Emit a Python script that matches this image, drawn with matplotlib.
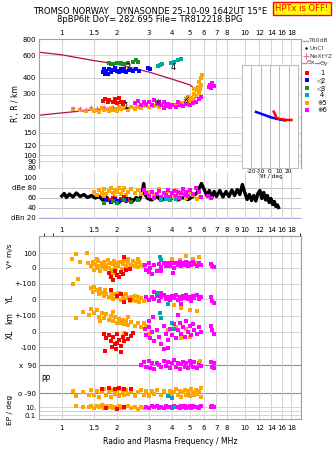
import numpy as np
import matplotlib
matplotlib.use("Agg")
import matplotlib.pyplot as plt

W, H = 335, 451

# ---- data ----
freq_ticks = [1, 1.5, 2, 3, 4, 5, 6, 7, 8, 10, 12, 14, 16, 18]
freq_ticks_mid = [1, 1.5, 2, 3, 4, 5, 6, 7, 8, 9, 10, 12, 14, 16, 18]
height_ticks = [80, 90, 100, 120, 150, 200, 300, 400, 600, 800]

# model curves (MHz, km)
upper_f = [0.75, 1.0, 1.5, 2.0, 3.0, 4.0, 5.0, 5.6]
upper_h = [632, 603, 544, 511, 443, 391, 353, 314]
lower_f = [0.75, 1.0, 1.5, 2.0, 3.0, 4.0, 5.0, 5.5]
lower_h = [205, 214, 226, 232, 240, 248, 265, 285]

# echoes in the height panel (MHz, km)
h_blue = [(1.68, 440), (1.7, 465), (1.72, 425), (1.75, 450), (1.8, 470), (1.85, 445), (1.9, 460),
          (1.95, 475), (2.0, 450), (2.05, 440), (2.1, 465), (2.15, 455), (2.2, 470), (2.25, 445),
          (2.35, 460), (2.45, 450), (2.55, 470), (2.65, 455), (2.95, 475), (3.05, 470), (1.78, 430)]
h_green = [(1.8, 520), (1.9, 515), (2.0, 525), (2.1, 520), (2.2, 510), (2.3, 525), (2.45, 535),
           (2.55, 550), (2.6, 530), (1.85, 510)]
h_teal = [(3.35, 495), (3.45, 505), (3.55, 515), (3.95, 520), (4.1, 535), (4.3, 550), (4.5, 560)]
h_red = [(1.68, 265), (1.72, 275), (1.78, 258), (1.82, 268), (1.9, 260), (1.95, 272), (2.0, 255),
         (2.05, 278), (2.1, 262), (2.15, 250), (2.2, 258)]
h_orange = [(1.15, 228), (1.25, 225), (1.35, 222), (1.45, 230), (1.5, 220), (1.55, 226), (1.6, 218),
            (1.65, 232), (1.7, 224), (1.75, 228), (1.8, 220), (1.85, 234), (1.9, 226), (1.95, 230),
            (2.0, 222), (2.05, 236), (2.1, 228), (2.2, 232), (2.3, 226), (2.4, 236), (2.5, 230),
            (2.6, 238), (2.7, 232), (2.8, 240), (3.0, 236), (3.2, 242), (3.4, 238), (3.6, 244),
            (3.8, 240), (4.0, 248), (4.2, 244), (4.4, 256), (4.6, 250), (4.8, 265), (5.0, 262),
            (5.1, 280), (5.2, 275), (5.3, 300), (5.4, 290), (5.5, 320), (5.55, 340), (5.6, 305),
            (5.65, 370), (5.7, 330), (5.75, 400), (5.8, 355), (5.85, 420), (4.9, 285), (5.3, 330)]
h_magenta = [(2.5, 255), (2.6, 265), (2.7, 245), (2.8, 258), (2.9, 250), (3.0, 262), (3.1, 248),
             (3.2, 270), (3.3, 255), (3.4, 262), (3.5, 245), (3.6, 258), (3.7, 240), (3.8, 252),
             (3.9, 238), (4.0, 248), (4.2, 236), (4.4, 245), (4.6, 240), (4.8, 250), (5.0, 245),
             (5.2, 255), (5.4, 262), (5.6, 275), (5.8, 285), (6.35, 340), (6.45, 355), (6.55, 335),
             (6.65, 362), (6.75, 345), (3.6, 235), (4.3, 260)]
h_nextyz = [(1.15, 232), (1.25, 234), (1.35, 230), (1.45, 236), (1.55, 232), (1.7, 238), (1.9, 236)]

# tilt inset (deg, km)
tilt_x_deg = [-15, -10, -5, 0, 5, 10, 16]
tilt_x_h = [280, 270, 260, 250, 243, 237, 232]
tilt_y_deg = [4, 5, 6, 6, 10, 15, 20, 23]
tilt_y_h = [282, 270, 258, 248, 240, 236, 234, 234]

# amplitude panel (MHz, dB)
noise_f = [1.0, 1.03, 1.06, 1.1, 1.15, 1.2, 1.26, 1.32, 1.38, 1.45, 1.52, 1.6, 1.68, 1.76, 1.85,
           1.95, 2.05, 2.15, 2.25, 2.35, 2.45, 2.55, 2.65, 2.75, 2.8, 2.85, 2.95, 3.1, 3.3, 3.5,
           3.7, 3.9, 4.1, 4.3, 4.6, 4.9, 5.2, 5.5, 5.8, 6.0, 6.2, 6.4, 6.6, 6.8, 7.0, 7.3, 7.6,
           7.9, 8.2, 8.5, 8.8, 9.1, 9.4, 9.7, 10.0, 10.3, 10.6, 10.9, 11.2, 11.5, 11.8, 12.1,
           12.4, 12.7, 13.0, 13.3, 13.6, 13.9, 14.2, 14.5, 14.8, 15.1, 15.3]
noise_db = [63, 68, 60, 67, 61, 69, 62, 66, 60, 64, 59, 62, 54, 60, 51, 58, 50, 57, 52, 58, 53,
            60, 55, 70, 88, 66, 58, 55, 62, 54, 60, 55, 62, 55, 60, 56, 62, 70, 88, 76, 64, 74,
            60, 72, 62, 74, 61, 72, 62, 75, 64, 76, 66, 86, 70, 56, 66, 54, 64, 53, 68, 74, 58,
            70, 55, 64, 50, 58, 46, 52, 42, 45, 40]
db_orange = [(1.5, 72), (1.55, 66), (1.6, 76), (1.65, 70), (1.7, 78), (1.75, 68), (1.8, 74),
             (1.85, 79), (1.9, 70), (1.95, 76), (2.0, 72), (2.05, 80), (2.1, 68), (2.15, 75),
             (2.2, 79), (2.3, 72), (2.4, 77), (2.5, 70), (2.6, 75), (2.7, 68), (3.0, 72), (3.2, 66),
             (3.4, 78), (3.6, 70), (3.8, 74), (4.0, 62), (4.2, 76), (4.4, 68), (4.6, 74), (4.8, 60),
             (5.0, 72), (5.2, 66), (5.5, 58), (5.7, 62), (1.7, 64), (2.25, 66), (1.95, 62)]
db_red = [(1.8, 55), (1.9, 60), (2.0, 52), (2.1, 58), (2.2, 62), (2.3, 56)]
db_blue = [(1.75, 56), (1.85, 52), (1.95, 58), (2.05, 54), (2.25, 58)]
db_green = [(1.7, 50), (1.9, 54), (2.0, 50), (2.2, 55), (2.4, 52), (2.6, 56)]
db_teal = [(3.5, 56), (3.7, 58), (3.9, 55), (4.2, 57)]
db_magenta = [(2.8, 76), (2.9, 70), (3.0, 64), (3.1, 72), (3.2, 60), (3.3, 68), (3.4, 74), (3.5, 62),
              (3.6, 70), (3.7, 66), (3.8, 76), (3.9, 62), (4.0, 70), (4.1, 74), (4.2, 64), (4.3, 72),
              (4.4, 60), (4.5, 70), (4.6, 78), (4.7, 66), (4.8, 72), (4.9, 64), (5.0, 76), (5.2, 68),
              (5.4, 80), (5.6, 72), (5.8, 62), (6.3, 64), (6.5, 60)]

# velocity V* (MHz, m/s)
v_orange = [(1.13, 58), (1.2, 90), (1.25, 40), (1.37, 97), (1.39, 30), (1.22, -70), (1.45, 10),
            (1.48, 40), (1.5, -10), (1.52, 25), (1.55, 0), (1.58, 45), (1.6, 15), (1.62, -20),
            (1.65, 30), (1.68, 5), (1.7, 40), (1.72, -5), (1.75, 20), (1.78, 50), (1.8, 0),
            (1.83, 30), (1.86, -15), (1.9, 25), (1.93, 45), (1.96, 5), (2.0, 30), (2.04, 10),
            (2.08, 40), (2.12, -5), (2.16, 25), (2.2, 45), (2.25, 10), (2.3, 35), (2.35, 0),
            (2.4, 20), (2.45, 45), (2.5, 15), (2.55, 30), (2.6, 5), (2.65, 40), (2.7, 20),
            (2.78, 10), (1.55, 60), (1.9, -30), (2.3, 60), (2.6, 55), (4.0, 60), (4.4, 50),
            (4.8, 75), (5.2, 55), (5.6, 70), (5.5, 30)]
v_red = [(1.8, -30), (1.85, -55), (1.95, -20), (2.0, -45), (2.05, -60), (2.1, -25), (2.15, -40),
         (2.25, -15), (1.9, -75), (2.35, -5), (2.2, 70)]
v_magenta = [(2.85, 20), (2.9, -10), (3.0, 30), (3.05, 0), (3.1, -40), (3.2, 20), (3.3, -20),
             (3.4, 25), (3.5, 5), (3.6, 30), (3.7, 10), (3.8, 35), (3.9, 15), (4.0, 30), (4.1, 0),
             (4.2, 35), (4.3, 20), (4.4, 40), (4.5, 10), (4.6, 30), (4.7, 20), (4.8, 40), (4.9, 15),
             (5.0, 35), (5.1, 20), (5.2, 40), (5.3, 25), (5.45, 10), (5.6, 30), (5.75, 20),
             (6.5, 25), (6.6, 10), (6.8, 5), (3.0, -25), (3.5, -20), (4.05, -30)]
v_teal = [(3.45, 70), (3.5, 50)]

# YL (MHz, km)
yl_orange = [(1.15, 95), (1.45, 70), (1.48, 45), (1.5, 80), (1.55, 55), (1.6, 30), (1.62, 65),
             (1.65, 40), (1.7, 20), (1.72, 55), (1.75, 35), (1.8, 10), (1.85, 45), (1.88, 25),
             (1.9, 0), (1.95, 30), (2.0, 10), (2.05, 40), (2.1, -5), (2.15, 20), (2.2, 0),
             (2.25, 30), (2.3, 5), (2.35, -15), (2.4, 15), (2.45, -5), (2.5, 20), (2.55, -10),
             (2.6, 10), (2.65, -20), (2.7, 5), (2.8, -10), (2.9, 0), (4.1, -40), (4.5, -60),
             (5.0, -70), (5.5, -80)]
yl_red = [(1.85, 60), (2.0, 20), (2.1, 35), (2.2, -20), (2.35, -5)]
yl_magenta = [(2.9, 10), (3.0, -5), (3.1, 15), (3.2, 0), (3.3, 20), (3.4, -10), (3.5, 10), (3.6, 25),
              (3.7, 0), (3.8, 15), (3.9, -5), (4.0, 20), (4.1, 5), (4.2, 25), (4.3, -5), (4.4, 15),
              (4.5, 0), (4.6, 20), (4.7, 5), (4.8, 25), (4.9, 0), (5.0, 15), (5.1, -10), (5.2, 20),
              (5.3, 5), (5.45, 25), (5.6, 0), (5.75, 15), (6.5, 10), (6.6, -10), (6.8, -25),
              (3.2, 45), (3.5, 40), (4.5, -30)]
yl_teal = [(3.35, 40), (3.8, -35)]

# XL (MHz, km)
xl_orange = [(1.2, 90), (1.3, 130), (1.4, 110), (1.45, 150), (1.5, 120), (1.55, 140), (1.6, 100),
             (1.65, 125), (1.7, 90), (1.75, 115), (1.8, 80), (1.85, 105), (1.9, 70), (1.95, 95),
             (2.0, 60), (2.05, 85), (2.1, 55), (2.15, 75), (2.2, 50), (2.25, 70), (2.3, 45),
             (2.4, 65), (2.5, 40), (2.6, 60), (2.7, 30), (2.8, 55), (2.9, 40), (1.62, 70),
             (1.9, 130), (2.3, 100), (3.8, 10), (4.0, -20), (4.2, 30), (4.5, -40), (4.8, 20),
             (5.0, -30), (5.3, 10), (5.5, -10), (3.0, -10), (2.2, -5)]
xl_red = [(1.7, -10), (1.75, -40), (1.8, -20), (1.85, -60), (1.9, -30), (1.95, -80), (2.0, -10),
          (2.05, -50), (2.1, -90), (2.15, -30), (2.2, -60), (2.25, -15), (2.3, -45), (2.4, -25),
          (1.72, -120), (1.98, -110), (2.1, -130), (2.45, -5), (2.0, -70), (1.88, -95)]
xl_magenta = [(2.85, 20), (2.9, -20), (3.0, 30), (3.05, -40), (3.1, 0), (3.2, -60), (3.3, 10),
              (3.4, -30), (3.5, -80), (3.6, 40), (3.7, -10), (3.8, -50), (3.9, 20), (4.0, -20),
              (4.1, 50), (4.2, -40), (4.3, 10), (4.4, 60), (4.5, -10), (4.6, 30), (4.7, -30),
              (4.8, 70), (4.9, 0), (5.0, 40), (5.1, -20), (5.2, 50), (5.3, 10), (5.45, -10),
              (5.6, 30), (5.75, 0), (6.5, 40), (6.6, 10), (6.8, -15), (3.0, 70), (3.15, 100),
              (4.3, 110), (3.6, -110), (3.8, -100)]
xl_teal = [(3.45, 120), (3.5, 90), (4.0, 60), (4.1, 20)]

# polarisation (MHz, deg from +90 / -90)
pp_x_magenta = [(2.7, 0), (2.8, 20), (2.9, -10), (3.0, 25), (3.05, -20), (3.1, 10), (3.2, -25),
                (3.3, 15), (3.4, 0), (3.5, -15), (3.6, 25), (3.7, -5), (3.8, 20), (3.9, -20),
                (4.0, 10), (4.1, 30), (4.2, -10), (4.3, 15), (4.4, -25), (4.5, 5), (4.6, 20),
                (4.7, -15), (4.8, 10), (4.9, -20), (5.0, 25), (5.1, 0), (5.2, -10), (5.3, 20),
                (5.45, -20), (5.6, 10), (5.75, -5), (6.5, 20), (6.6, -10), (6.8, 15), (6.8, -20)]
pp_x_orange = [(5.7, 25)]
pp_o_orange = [(1.15, 10), (1.2, -20), (1.3, 5), (1.4, -15), (1.45, 20), (1.5, -10), (1.55, 15),
               (1.6, -25), (1.65, 5), (1.7, 25), (1.75, -15), (1.8, 10), (1.85, -25), (1.9, 20),
               (1.95, -5), (2.0, 15), (2.05, -20), (2.1, 25), (2.15, 0), (2.2, -15), (2.25, 20),
               (2.3, -5), (2.4, 15), (2.5, -20), (2.6, 5), (2.7, 20), (2.8, -10), (2.9, 10),
               (3.0, -20), (3.1, 15), (3.2, -5), (3.3, 20), (3.5, -15), (3.6, 10), (3.8, -10),
               (3.9, 15), (4.0, -20), (4.1, 5), (4.2, 25), (4.3, -10), (4.4, 15), (4.5, -25),
               (4.6, 5), (4.7, 20), (4.8, -15), (4.9, 10), (5.0, -20), (5.1, 25), (5.2, 0),
               (5.3, -15), (5.4, 20), (5.5, -5), (5.65, 15), (5.75, -25), (5.8, 30)]
pp_o_red = [(1.65, 25), (1.8, 30), (1.95, 25), (2.05, 30), (2.2, 28), (2.4, 25)]
pp_o_teal = [(3.8, -20), (4.0, -30)]

# EP (MHz, deg)
ep_orange = [(1.2, 15), (1.3, 8), (1.4, 12), (1.45, 20), (1.5, 6), (1.55, 15), (1.6, 9), (1.65, 25),
             (1.7, 5), (1.75, 14), (1.8, 8), (1.85, 20), (1.9, 6), (1.95, 12), (2.0, 4), (2.05, 18),
             (2.1, 7), (2.15, 11), (2.2, 5), (2.3, 15), (2.4, 6), (2.5, 10), (2.6, 4), (2.7, 12),
             (2.8, 7), (4.5, 8), (5.6, 10)]
ep_red = [(1.75, 5), (2.0, 3), (2.2, 12)]
ep_magenta = [(2.9, 12), (3.0, 6), (3.1, 15), (3.2, 8), (3.3, 20), (3.4, 7), (3.5, 11), (3.6, 5),
              (3.7, 16), (3.8, 9), (3.9, 13), (4.0, 6), (4.1, 18), (4.2, 8), (4.3, 12), (4.4, 5),
              (4.5, 15), (4.6, 9), (4.7, 20), (4.8, 7), (4.9, 11), (5.0, 14), (5.1, 6), (5.2, 17),
              (5.3, 9), (5.45, 12), (5.6, 7), (5.75, 14), (6.5, 10), (6.6, 14), (6.8, 8)]
ep_teal = [(4.1, 10)]

RED, BLUE, GREEN, TEAL, ORANGE, MAGENTA = "#ff0000", "#0000ff", "#1e8c1e", "#00a8a8", "#ffa500", "#ff00ff"
CURVE = "#b5103c"
GRID = "#d4d4d4"
FRAME = "#a0a0a0"
FS = 5

plt.rcParams["font.family"] = ["DejaVu Sans"]


def box(x0, y0, x1, y1):
    return [x0 / W, 1 - y1 / H, (x1 - x0) / W, (y1 - y0) / H]


def dots(ax, pts, color, ymap=None, s=5):
    f = np.array([p[0] for p in pts])
    v = np.array([p[1] for p in pts], dtype=float)
    if ymap is not None:
        v = ymap(v)
    ax.scatter(f, v, s=s, marker="s", color=color, linewidths=0, zorder=3)


def freq_axis(ax):
    ax.set_xscale("log")
    ax.set_xlim(0.75, 20.3)
    ax.xaxis.set_minor_locator(matplotlib.ticker.NullLocator())
    ax.tick_params(length=0, labelsize=FS, pad=2)
    for sp in ax.spines.values():
        sp.set_color(FRAME)
        sp.set_linewidth(0.8)


fig = plt.figure(figsize=(W / 100, H / 100), dpi=100)

# ---------- height panel ----------
ax1 = fig.add_axes(box(39, 39, 301, 168))
freq_axis(ax1)
ax1.set_yscale("log")
ax1.set_ylim(80, 800)
ax1.yaxis.set_minor_locator(matplotlib.ticker.NullLocator())
ax1.set_yticks(height_ticks)
ax1.set_yticklabels([str(t) for t in height_ticks])
ax1.set_xticks(freq_ticks)
ax1.set_xticklabels([("%g" % t) for t in freq_ticks])
ax1.xaxis.tick_top()
ax1.spines["bottom"].set_visible(False)
ax1.grid(True, color=GRID, lw=0.7)
ax1.set_axisbelow(True)
ax1.plot(upper_f, upper_h, color=CURVE, lw=0.9, zorder=2)
ax1.plot(lower_f, lower_h, color=CURVE, lw=0.9, zorder=2)
dots(ax1, h_orange, ORANGE, s=6)
dots(ax1, h_magenta, MAGENTA, s=6)
dots(ax1, h_teal, TEAL, s=6)
dots(ax1, h_red, RED, s=6)
dots(ax1, h_blue, BLUE, s=6)
dots(ax1, h_green, GREEN, s=6)
nx = np.array(h_nextyz)
ax1.scatter(nx[:, 0], nx[:, 1], marker="+", s=12, color="#e8709a", linewidths=0.8, zorder=4)
for txt, fx, hy in [("2", 2.29, 478), ("1", 2.24, 239), ("\u203b", 3.34, 252), ("4", 4.04, 478), ("\u203b", 4.75, 266)]:
    ax1.text(fx, hy, txt, fontsize=6, ha="center", va="center", zorder=5)
ax1.set_ylabel("R', R / km", fontsize=5.5, labelpad=2)

# tilt inset
axt = fig.add_axes(box(242, 65, 298, 168))
axt.set_facecolor("white")
axt.set_xlim(-30, 30)
axt.set_yscale("log")
axt.set_ylim(80, 800)
axt.set_yticks([])
axt.yaxis.set_minor_locator(matplotlib.ticker.NullLocator())
axt.set_xticks([-20, -10, 0, 10, 20])
axt.set_xticklabels(["-20", "-10", "0", "10", "20"])
axt.tick_params(length=0, labelsize=4.2, pad=1)
axt.grid(True, axis="x", color="#b8b8b8", lw=0.7)
for sp in axt.spines.values():
    sp.set_color("#c0c0c0")
axt.plot(tilt_x_deg, tilt_x_h, color=BLUE, lw=1.8, zorder=3)
axt.plot(tilt_y_deg, tilt_y_h, color=RED, lw=1.8, zorder=3)
axt.set_xlabel("Tilt / deg", fontsize=4.2, labelpad=0)

# ---------- amplitude panel ----------
ax2 = fig.add_axes(box(39, 172, 301, 219))
freq_axis(ax2)
ax2.patch.set_alpha(0)
ax2.set_ylim(17, 111)
ax2.set_yticks([20, 40, 60, 80, 100])
ax2.set_yticklabels(["dBn 20", "40", "60", "dBe 80", "100"])
ax2.set_xticks(freq_ticks)
ax2.set_xticklabels([])
for sp in ax2.spines.values():
    sp.set_visible(False)
ax2.grid(True, axis="x", color=GRID, lw=0.7)
for lev in [40, 60, 80]:
    ax2.axhline(lev, color="#c4c4c4", lw=0.7, zorder=1)
ax2.axhline(20, color="#a8a8e0", lw=1.0, zorder=1)
ax2.plot(noise_f, noise_db, color="black", lw=2.4, zorder=2)
dots(ax2, db_orange, ORANGE)
dots(ax2, db_magenta, MAGENTA)
dots(ax2, db_teal, TEAL)
dots(ax2, db_red, RED)
dots(ax2, db_blue, BLUE)
dots(ax2, db_green, GREEN)

# ---------- velocity / position / polarisation panel ----------
BAND_PX = {"V": 268, "YL": 299, "XL": 332, "X90": 365, "O90": 393}
PX_PER_UNIT = 0.155


def band(name):
    return lambda v: BAND_PX[name] - PX_PER_UNIT * v


def ep_band(v):
    return 407 - 4 * np.log10(v / 10.0)


ax3 = fig.add_axes(box(39, 236, 301, 419))
freq_axis(ax3)
ax3.set_ylim(419, 236)
ax3.set_xticks(freq_ticks)
ax3.set_xticklabels([("%g" % t) for t in freq_ticks])
ax3.tick_params(axis="x", pad=4)
ylab_px = [253, 268, 284, 299, 316, 332, 347, 365, 393, 407, 415]
ylab_txt = ["100", "0", "+-100", "0", "+-100", "0", "-100", "x  90", "o -90", "10.", "0.1"]
ax3.set_yticks(ylab_px)
ax3.set_yticklabels(ylab_txt)
ax3.grid(True, axis="x", color=GRID, lw=0.7)
for y in [253, 268, 284, 299, 316, 332, 347, 407, 411, 415]:
    ax3.axhline(y, color=GRID, lw=0.7, zorder=1)
for y in [365, 393]:
    ax3.axhline(y, color="#909090", lw=0.8, zorder=1)
ax3.set_xlabel("Radio and Plasma Frequency / MHz", fontsize=5.5, labelpad=5)

top3 = ax3.secondary_xaxis("top")
top3.set_xticks(freq_ticks_mid)
top3.set_xticklabels([("%g" % t) for t in freq_ticks_mid])
top3.tick_params(length=0, labelsize=FS, pad=2)
top3.spines["top"].set_color(FRAME)

for pts, col in [(v_orange, ORANGE), (v_magenta, MAGENTA), (v_teal, TEAL), (v_red, RED)]:
    dots(ax3, pts, col, band("V"))
for pts, col in [(yl_orange, ORANGE), (yl_magenta, MAGENTA), (yl_teal, TEAL), (yl_red, RED)]:
    dots(ax3, pts, col, band("YL"))
for pts, col in [(xl_orange, ORANGE), (xl_magenta, MAGENTA), (xl_teal, TEAL), (xl_red, RED)]:
    dots(ax3, pts, col, band("XL"))
for pts, col in [(pp_x_magenta, MAGENTA), (pp_x_orange, ORANGE)]:
    dots(ax3, pts, col, band("X90"))
for pts, col in [(pp_o_orange, ORANGE), (pp_o_teal, TEAL), (pp_o_red, RED)]:
    dots(ax3, pts, col, band("O90"))
for pts, col in [(ep_orange, ORANGE), (ep_magenta, MAGENTA), (ep_teal, TEAL), (ep_red, RED)]:
    dots(ax3, pts, col, ep_band)

# ---------- overlay: titles, legend, side labels (pixel coords) ----------
ov = fig.add_axes([0, 0, 1, 1])
ov.set_xlim(0, W)
ov.set_ylim(H, 0)
ov.axis("off")
ov.patch.set_alpha(0)

ov.text(150, 11, "TROMSO NORWAY   DYNASONDE 25-10-09 1642UT 15\u00b0E", fontsize=6.0,
        ha="center", va="center")
ov.text(150, 20, "8pBP6It DoY= 282.695 File= TR812218.BPG", fontsize=6.0, ha="center", va="center")
ov.text(302, 8.5, "HPTx is OFF!", fontsize=6, color="red", ha="center", va="center",
        bbox=dict(boxstyle="square,pad=0.25", fc="#ffff00", ec="red", lw=1.0))

# legend
ov.plot([303, 308], [41, 41], color="#a0a0a0", lw=1)
ov.text(309, 41, "T60dB", fontsize=4.4, va="center", color="#404040")
ov.plot([306], [48], marker=".", ms=1.5, color="black")
ov.text(309, 48, "UnCl", fontsize=4.4, va="center", color="#404040")
ov.plot([306], [56], marker="+", ms=4, color="#e8709a", mew=0.8)
ov.text(309, 56, "NeXtYZ", fontsize=4.4, va="center", color="#404040")
ov.plot([302, 306], [63, 63], color="#f08080", lw=1)
ov.text(306.5, 63, "\u0398x", fontsize=4.4, va="center", color="#404040")
ov.plot([315, 319], [63, 63], color="#8080f0", lw=1)
ov.text(319.5, 63, "\u0398y", fontsize=4.4, va="center", color="#404040")
leg_cols = [RED, BLUE, GREEN, TEAL, ORANGE, MAGENTA]
leg_txt = ["1", "\u25c12", "\u25c13", "4", "\u203b5", "\u203b6"]
for i, (c, t) in enumerate(zip(leg_cols, leg_txt)):
    y = 73 + i * 7.4
    ov.scatter([307], [y], s=7, marker="s", color=c, linewidths=0)
    ov.text(322, y, t, fontsize=4.8, va="center", ha="center")

# side labels of lower panel
ov.text(10, 256, "V* m/s", fontsize=5.3, rotation=90, ha="center", va="center")
ov.text(10, 299, "YL", fontsize=5.5, rotation=90, ha="center", va="center")
ov.text(10, 318, "km", fontsize=5.5, rotation=90, ha="center", va="center")
ov.text(10, 334, "XL", fontsize=5.5, rotation=90, ha="center", va="center")
ov.text(46, 380, "PP", fontsize=5.5, ha="center", va="center")
ov.text(10, 410, "EP / deg", fontsize=5.3, rotation=90, ha="center", va="center")

fig.savefig("out.png", dpi=100)
